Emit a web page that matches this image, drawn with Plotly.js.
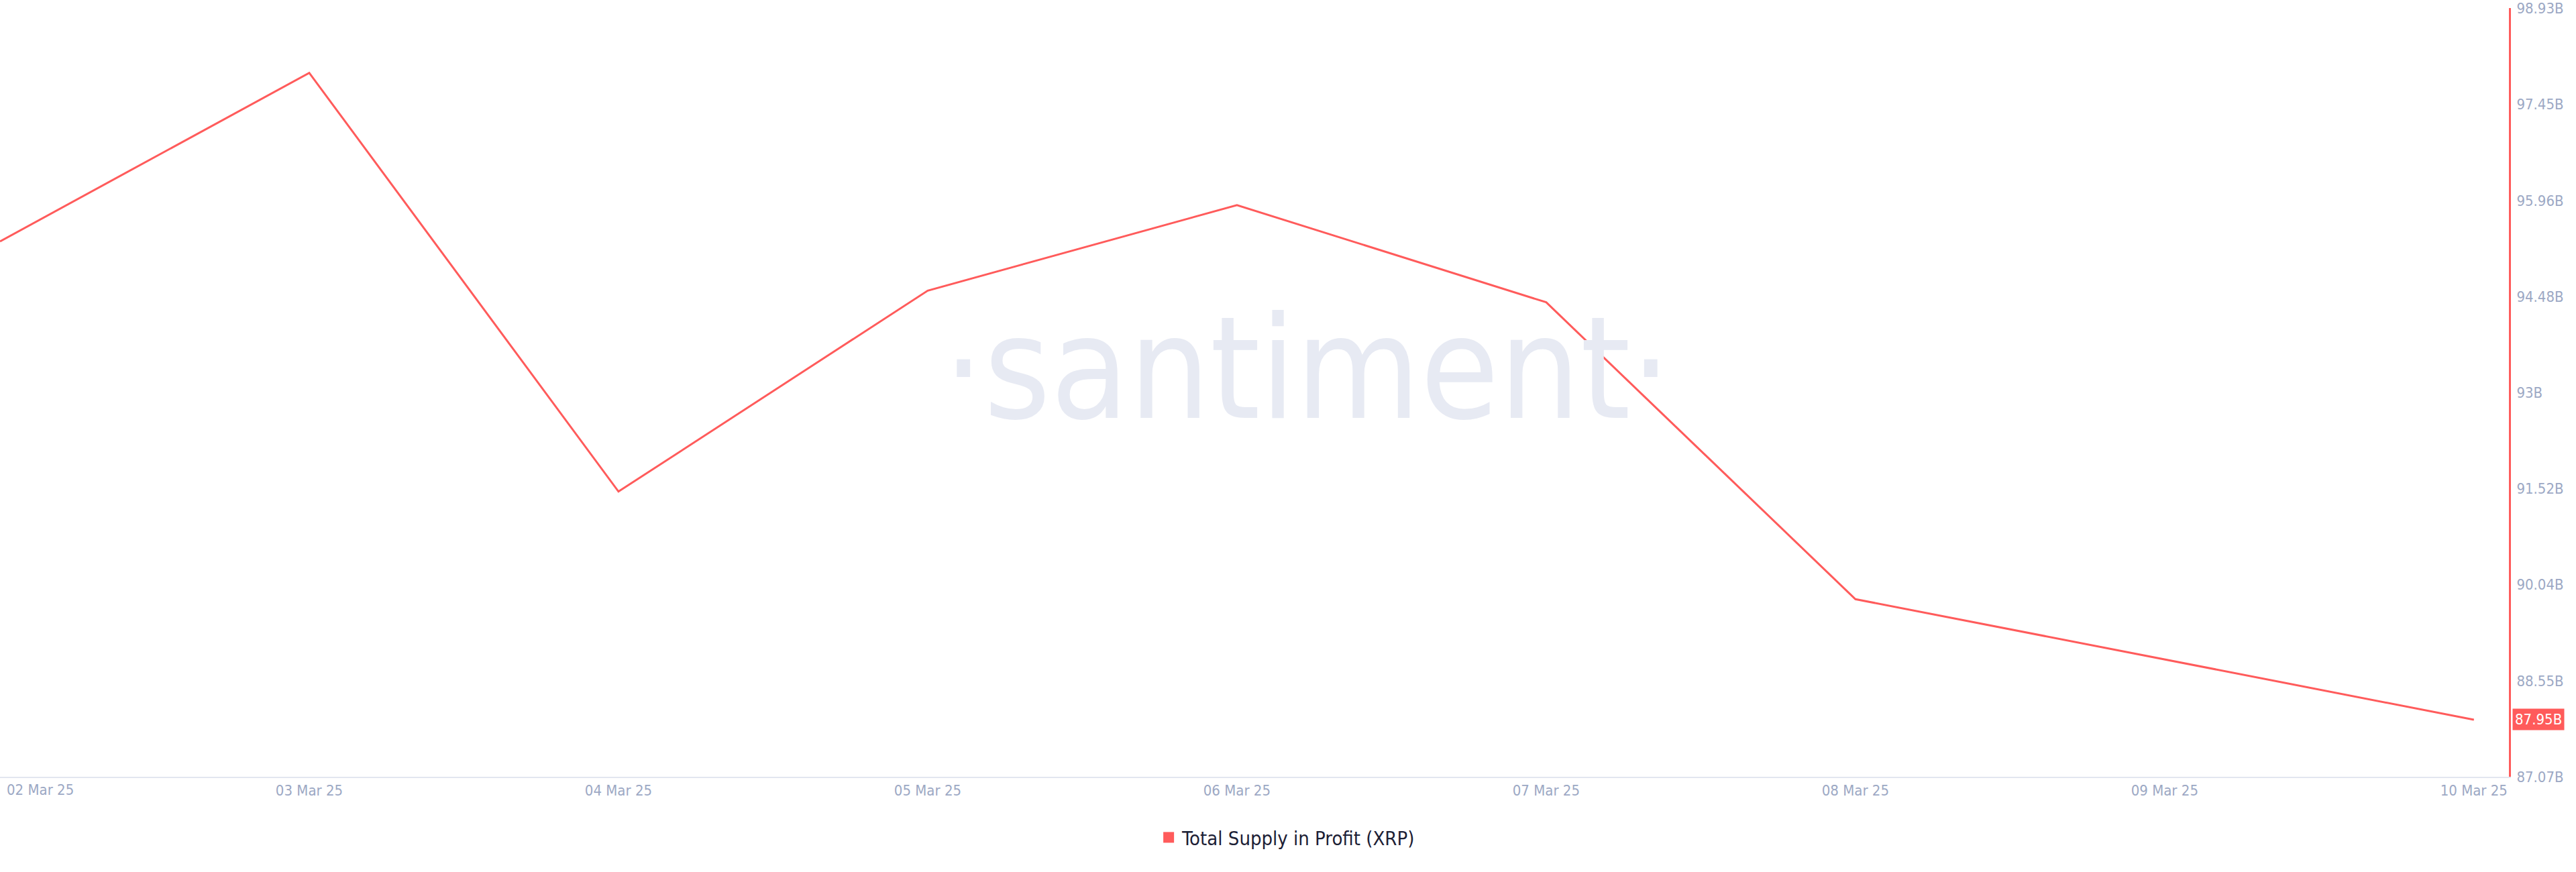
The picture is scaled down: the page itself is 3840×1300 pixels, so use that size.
<!DOCTYPE html>
<html>
<head>
<meta charset="utf-8">
<script src="https://cdn.plot.ly/plotly-3.0.1.min.js"></script>
<style>
  html, body { margin: 0; padding: 0; background: #ffffff; }
  #chart { width: 3840px; height: 1300px; }
</style>
</head>
<body>
<div id="chart"></div>
<script>
// ---- data ----
const dates = ['2025-03-02', '2025-03-03', '2025-03-04', '2025-03-05', '2025-03-06',
               '2025-03-07', '2025-03-08', '2025-03-09', '2025-03-10'];
const supplyInProfitB = [95.33, 97.93, 91.47, 94.57, 95.89, 94.39, 89.81, 88.88, 87.95];
const seriesName = 'Total Supply in Profit (XRP)';
const yTickVals = [87.07, 88.55, 90.04, 91.52, 93, 94.48, 95.96, 97.45, 98.93];
const yTickText = ['87.07B', '88.55B', '90.04B', '91.52B', '93B', '94.48B', '95.96B', '97.45B', '98.93B'];
const xTickVals = ['2025-03-03', '2025-03-04', '2025-03-05', '2025-03-06',
                   '2025-03-07', '2025-03-08', '2025-03-09', '2025-03-10'];
const xTickText = ['03 Mar 25', '04 Mar 25', '05 Mar 25', '06 Mar 25',
                   '07 Mar 25', '08 Mar 25', '09 Mar 25', '10 Mar 25'];
const firstTickLabel = '02 Mar 25';
const watermark = '·santiment·';

const RED = '#ff5b5b';
const TICK = '#9ca8c4';
const NARROW = '"Liberation Sans Narrow", "DejaVu Sans Condensed", "Arial Narrow", sans-serif';

const lastVal = supplyInProfitB[supplyInProfitB.length - 1];
const lastLabel = lastVal.toFixed(2) + 'B';

const traces = [
  {
    // watermark on hidden overlay axes, drawn beneath the data line
    x: [0.521], y: [0.513],
    xaxis: 'x2', yaxis: 'y2',
    mode: 'text',
    text: [watermark],
    textposition: 'middle center',
    textfont: { family: NARROW, size: 212, color: '#e7eaf3' },
    hoverinfo: 'skip',
    showlegend: false
  },
  {
    x: dates,
    y: supplyInProfitB,
    mode: 'lines',
    line: { color: RED, width: 3 },
    name: seriesName,
    showlegend: false
  },
  {
    // legend proxy (square swatch)
    x: [null], y: [null],
    mode: 'markers',
    marker: { symbol: 'square', color: RED, size: 18 },
    name: seriesName,
    showlegend: true
  }
];

const layout = {
  width: 3840,
  height: 1300,
  margin: { l: 0, r: 100, t: 12, b: 142 },
  paper_bgcolor: '#ffffff',
  plot_bgcolor: '#ffffff',
  showlegend: true,
  legend: {
    orientation: 'h',
    x: 0.513, xanchor: 'center',
    y: -0.079, yanchor: 'middle',
    font: { family: NARROW, size: 29, color: '#1c2035' },
    itemsizing: 'trace'
  },
  xaxis: {
    type: 'date',
    range: ['2025-03-02', '2025-03-10 02:43'],
    tickmode: 'array',
    tickvals: xTickVals,
    ticktext: xTickText,
    ticks: '',
    showgrid: false,
    zeroline: false,
    showline: true,
    linecolor: '#e2e6f0',
    linewidth: 2,
    tickfont: { family: NARROW, size: 22, color: TICK },
    ticklabelstandoff: 0,
    ticklabeloverflow: 'allow'
  },
  yaxis: {
    side: 'right',
    range: [87.07, 98.93],
    tickmode: 'array',
    tickvals: yTickVals,
    ticktext: yTickText,
    ticks: '',
    showgrid: false,
    zeroline: false,
    showline: true,
    linecolor: RED,
    linewidth: 3,
    tickfont: { family: NARROW, size: 22, color: TICK },
    ticklabelstandoff: 4,
    ticklabeloverflow: 'allow'
  },
  xaxis2: { overlaying: 'x', range: [0, 1], visible: false, fixedrange: true },
  yaxis2: { overlaying: 'y', range: [0, 1], visible: false, fixedrange: true },
  annotations: [
    {
      // first date label, pinned to the left edge as in the source chart
      x: dates[0], xref: 'x',
      y: 0, yref: 'paper',
      xanchor: 'left', yanchor: 'top',
      xshift: 8, yshift: -5,
      text: firstTickLabel,
      showarrow: false,
      font: { family: NARROW, size: 22, color: TICK }
    },
    {
      // last value badge on the right axis
      x: 1, xref: 'paper',
      y: lastVal, yref: 'y',
      xanchor: 'left', yanchor: 'middle',
      xshift: 5,
      text: lastLabel,
      showarrow: false,
      bgcolor: RED,
      borderpad: 3,
      font: { family: NARROW, size: 22, color: '#ffffff' }
    }
  ]
};

Plotly.newPlot('chart', traces, layout, { displayModeBar: false, staticPlot: true });
</script>
</body>
</html>
